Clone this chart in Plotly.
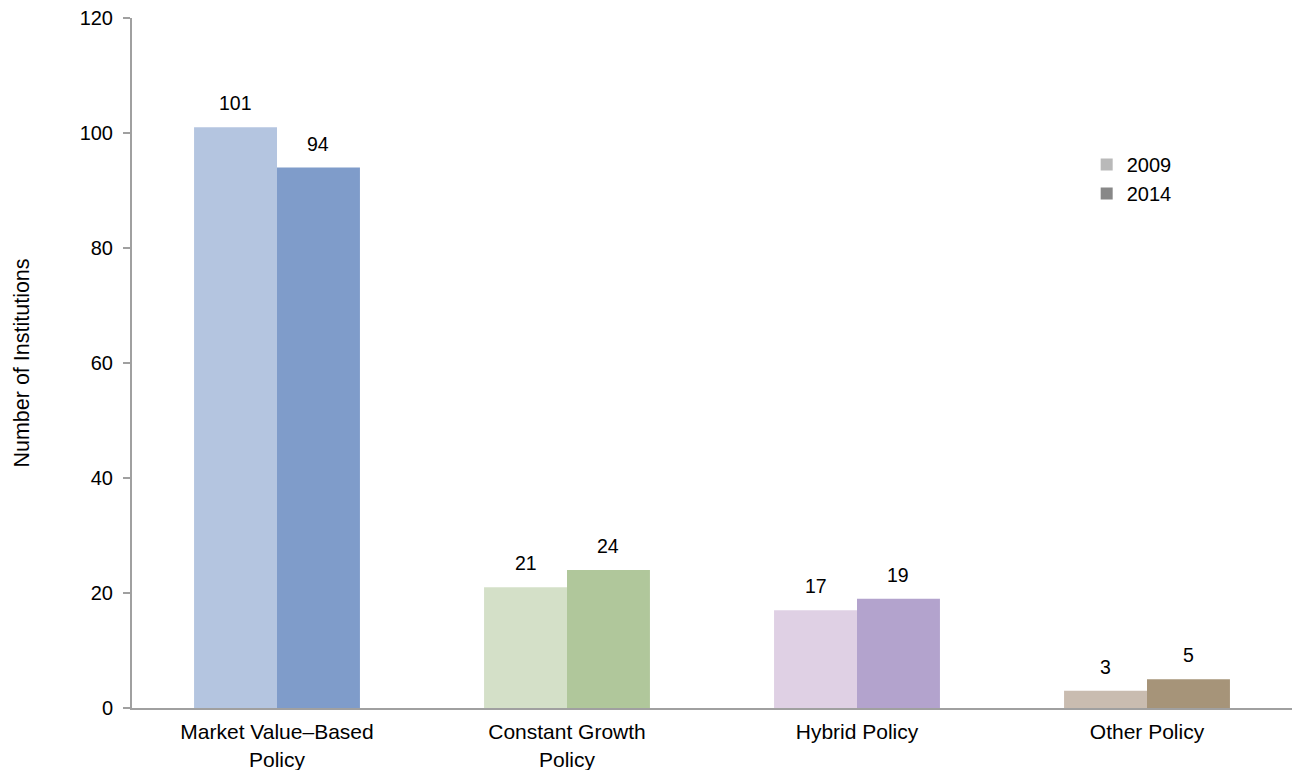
import plotly.graph_objects as go

# Data
categories = ["Market Value–Based<br>Policy", "Constant Growth<br>Policy", "Hybrid Policy", "Other Policy"]
values_2009 = [101, 21, 17, 3]
values_2014 = [94, 24, 19, 5]
years = ["2009", "2014"]
y_ticks = [0, 20, 40, 60, 80, 100, 120]

# Per-category shades (light for 2009, darker for 2014)
colors_2009 = ["#b4c5e0", "#d4e0c8", "#dfd0e4", "#c9bcb0"]
colors_2014 = ["#7f9cca", "#b0c79b", "#b3a3cd", "#a69479"]
legend_colors = ["#b9b9b9", "#888888"]

bar_w = 0.286
xpos = list(range(len(categories)))
FONT = "Liberation Sans, Arial, sans-serif"

fig = go.Figure()
fig.add_trace(go.Bar(x=xpos, y=values_2009, width=bar_w, offset=-bar_w,
                     marker=dict(color=colors_2009, line=dict(width=0)),
                     showlegend=False, name=years[0]))
fig.add_trace(go.Bar(x=xpos, y=values_2014, width=bar_w, offset=0,
                     marker=dict(color=colors_2014, line=dict(width=0)),
                     showlegend=False, name=years[1]))

# Legend entries in neutral grey
for yr, c in zip(years, legend_colors):
    fig.add_trace(go.Scatter(x=[None], y=[None], mode="markers", name=yr,
                             marker=dict(symbol="square", size=12, color=c)))

# Value labels above each bar
for i in xpos:
    for v, off in ((values_2009[i], -bar_w / 2), (values_2014[i], bar_w / 2)):
        fig.add_annotation(x=i + off, y=v, text=str(v), showarrow=False,
                           yanchor="bottom", yshift=11,
                           font=dict(size=19.5, color="#000000", family=FONT))

fig.update_layout(
    width=1298, height=770,
    margin=dict(l=132, r=6, t=18, b=62),
    plot_bgcolor="white", paper_bgcolor="white",
    font=dict(family=FONT, size=20, color="#000000"),
    barmode="overlay",
    legend=dict(x=0.823, y=0.816, xanchor="left", yanchor="top",
                bgcolor="rgba(0,0,0,0)", font=dict(size=20),
                itemwidth=30, tracegroupgap=0),
    xaxis=dict(range=[-0.5, 3.5], tickvals=xpos, ticktext=categories,
               tickfont=dict(size=21), ticklabelstandoff=4, automargin=False,
               showgrid=False, zeroline=False, showline=True,
               linecolor="#a0a0a0", linewidth=2, ticks=""),
    yaxis=dict(range=[0, 120], tickvals=y_ticks, showgrid=False, automargin=False,
               zeroline=False, showline=True, linecolor="#a0a0a0", linewidth=2,
               ticks="outside", ticklen=7, tickcolor="#a0a0a0", tickwidth=2,
               ticklabelstandoff=6,
               title=dict(text="Number of Institutions", standoff=44,
                          font=dict(size=21.5))),
)

fig.write_html("out.html")
